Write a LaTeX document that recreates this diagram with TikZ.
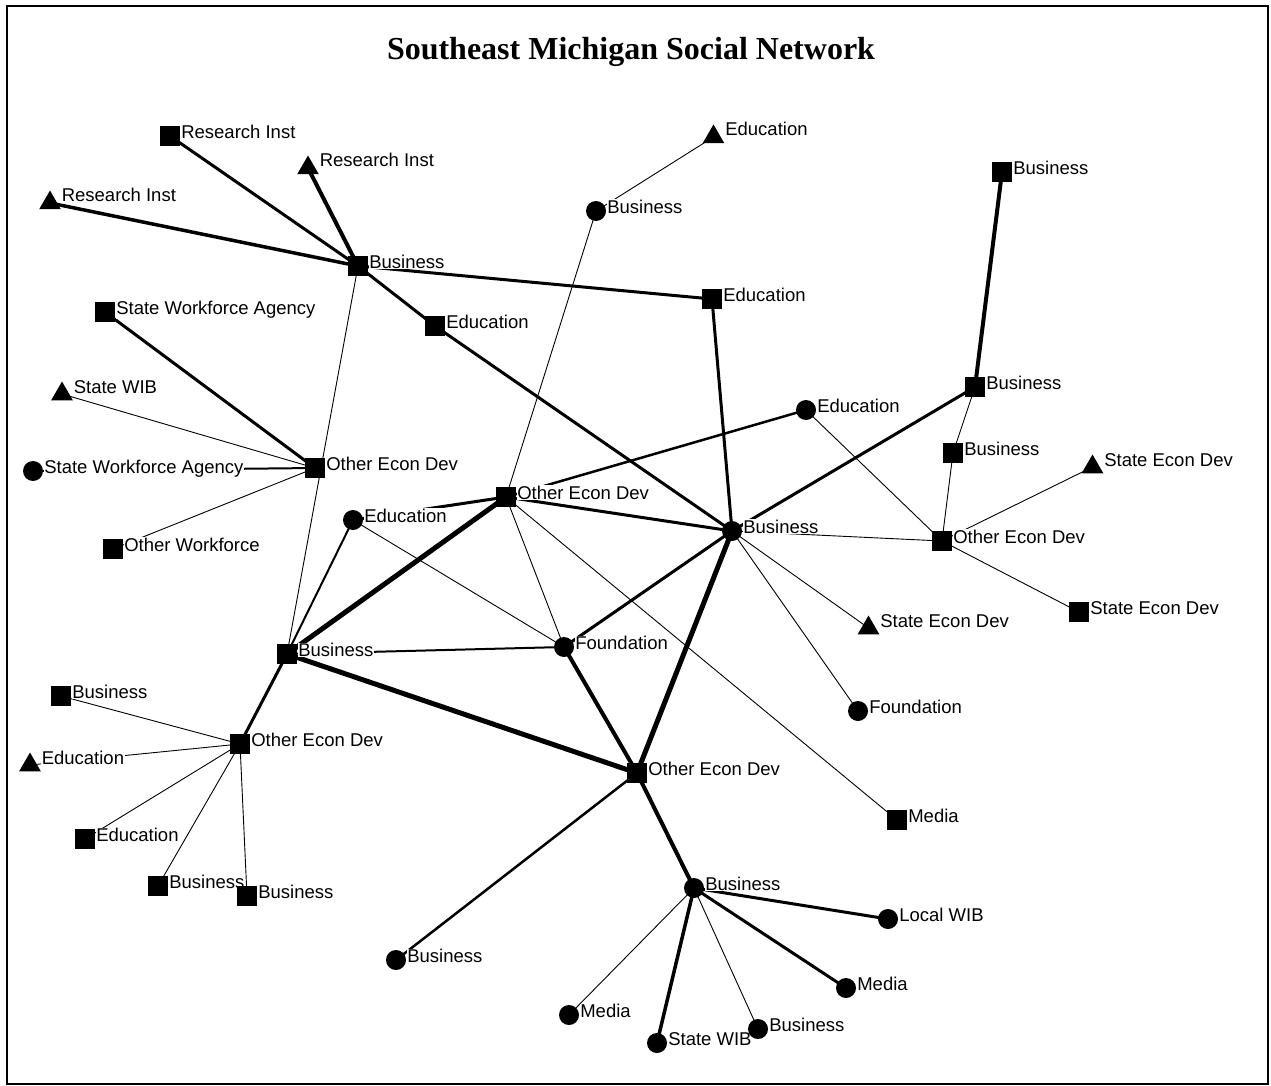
\documentclass[tikz,border=0pt]{standalone}
\usepackage{fontspec}
\setmainfont{Liberation Sans}
\newfontfamily\titlefont{Liberation Serif}
\usetikzlibrary{shapes.geometric}

\pgfdeclarelayer{paper}
\pgfdeclarelayer{edges}
\pgfdeclarelayer{texts}
\pgfsetlayers{paper,edges,texts,main}

\tikzset{
  sqv/.style={rectangle, fill=black, minimum size=19.5pt, inner sep=0pt},
  civ/.style={circle, fill=black, minimum size=20pt, inner sep=0pt},
  trv/.style={regular polygon, regular polygon sides=3, fill=black, minimum size=25pt, inner sep=0pt},
  lbl/.style={anchor=base west, fill=white, inner sep=0.6pt, font=\fontsize{18.5}{20}\selectfont},
  e1/.style={line width=0.9pt},
  e2/.style={line width=2pt},
  e25/.style={line width=2.5pt},
  e3/.style={line width=3pt},
  e35/.style={line width=3.5pt},
  e4/.style={line width=4pt},
  e5/.style={line width=5pt},
}

% marker + label helpers: name, x, y, text
\newcommand\sqnode[4]{\node[sqv] (#1) at (#2,#3) {};
  \begin{pgfonlayer}{texts}\node[lbl] (#1-t) at ({#2+10.5},{#3+2.5}) {#4};\end{pgfonlayer}}
\newcommand\cinode[4]{\node[civ] (#1) at (#2,#3) {};
  \begin{pgfonlayer}{texts}\node[lbl] (#1-t) at ({#2+10.5},{#3+2.5}) {#4};\end{pgfonlayer}}
\newcommand\trnode[4]{\node[trv] (#1) at (#2,#3) {};
  \begin{pgfonlayer}{texts}\node[lbl] (#1-t) at ({#2+11},{#3-1}) {#4};\end{pgfonlayer}}

\begin{document}
\begin{tikzpicture}[x=1pt, y=-1pt]
\useasboundingbox (0,0) rectangle (1271,1086);
\begin{pgfonlayer}{paper}
\fill[white] (0,0) rectangle (1271,1086);
\end{pgfonlayer}
\draw[line width=1.6pt] (7,6) rectangle (1268,1084);

\node[font=\titlefont\bfseries\fontsize{32}{36}\selectfont, anchor=base] (title) at (631,60) {Southeast Michigan Social Network};

% upper left cluster
\sqnode{ri1}{170}{136}{Research Inst}
\trnode{ri2}{308}{168}{Research Inst}
\trnode{ri3}{50}{203}{Research Inst}
\sqnode{b1}{358}{266}{Business}
\sqnode{ed1}{435}{326}{Education}
\sqnode{swa1}{105}{312}{State Workforce Agency}
\trnode{swib1}{62}{394}{State WIB}
\cinode{swa2}{33}{471}{State Workforce Agency}
\sqnode{oed1}{315}{468}{Other Econ Dev}
\sqnode{ow}{113}{549}{Other Workforce}
\cinode{ed2}{353}{520}{Education}
\sqnode{oed2}{506}{497}{Other Econ Dev}
\sqnode{b2}{287}{654}{Business}

% centre
\cinode{fd1}{564}{647}{Foundation}
\sqnode{oed3}{637}{773}{Other Econ Dev}
\cinode{bh}{732}{531}{Business}
\sqnode{ed3}{712}{299}{Education}
\cinode{bc1}{596}{211}{Business}
\trnode{ed4}{713.5}{137}{Education}
\cinode{ed5}{806}{410}{Education}

% right side
\sqnode{b3}{1002}{172}{Business}
\sqnode{b4}{975}{387}{Business}
\sqnode{b5}{953}{453}{Business}
\sqnode{oed4}{942}{541}{Other Econ Dev}
\trnode{sed1}{1092.5}{467}{State Econ Dev}
\sqnode{sed2}{1079}{612}{State Econ Dev}
\trnode{sed3}{868.5}{628}{State Econ Dev}
\cinode{fd2}{858}{711}{Foundation}
\sqnode{med1}{897}{820}{Media}

% lower left cluster
\sqnode{oed5}{240}{744}{Other Econ Dev}
\sqnode{b6}{61}{696}{Business}
\trnode{ed6}{30}{765}{Education}
\sqnode{ed7}{85}{839}{Education}
\sqnode{b7}{158}{886}{Business}
\sqnode{b8}{247}{896}{Business}
\cinode{b9}{396}{960}{Business}

% bottom cluster
\cinode{b10}{694}{888}{Business}
\cinode{lwib}{888}{919}{Local WIB}
\cinode{med2}{846}{988}{Media}
\cinode{med3}{569}{1015}{Media}
\cinode{swib2}{657}{1043}{State WIB}
\cinode{b11}{758}{1029}{Business}

\begin{pgfonlayer}{edges}
\draw[e3] (ri1.center) -- (b1.center);
\draw[e4] (ri2.center) -- (b1.center);
\draw[e35] (ri3.center) -- (b1.center);
\draw[e3] (b1.center) -- (ed3.center);
\draw[e3] (b1.center) -- (ed1.center);
\draw[e3] (ed1.center) -- (bh.center);
\draw[e1] (b1.center) -- (b2.center);
\draw[e3] (swa1.center) -- (oed1.center);
\draw[e1] (swib1.center) -- (oed1.center);
\draw[e2] (swa2.center) -- (oed1.center);
\draw[e1] (ow.center) -- (oed1.center);
\draw[e3] (ed2.center) -- (oed2.center);
\draw[e2] (ed2.center) -- (b2.center);
\draw[e1] (ed2.center) -- (fd1.center);
\draw[e5] (oed2.center) -- (b2.center);
\draw[e1] (oed2.center) -- (bc1.center);
\draw[e1] (bc1.center) -- (ed4.center);
\draw[e25] (oed2.center) -- (ed5.center);
\draw[e3] (oed2.center) -- (bh.center);
\draw[e1] (oed2.center) -- (fd1.center);
\draw[e1] (oed2.center) -- (med1.center);
\draw[e2] (b2.center) -- (fd1.center);
\draw[e5] (b2.center) -- (oed3.center);
\draw[e3] (b2.center) -- (oed5.center);
\draw[e3] (fd1.center) -- (bh.center);
\draw[e4] (fd1.center) -- (oed3.center);
\draw[e5] (oed3.center) -- (bh.center);
\draw[e25] (oed3.center) -- (b9.center);
\draw[e4] (oed3.center) -- (b10.center);
\draw[e3] (bh.center) -- (ed3.center);
\draw[e3] (bh.center) -- (b4.center);
\draw[e1] (bh.center) -- (oed4.center);
\draw[e1] (bh.center) -- (sed3.center);
\draw[e1] (bh.center) -- (fd2.center);
\draw[e4] (b3.center) -- (b4.center);
\draw[e1] (b4.center) -- (b5.center);
\draw[e1] (b5.center) -- (oed4.center);
\draw[e1] (ed5.center) -- (oed4.center);
\draw[e1] (oed4.center) -- (sed1.center);
\draw[e1] (oed4.center) -- (sed2.center);
\draw[e1] (oed5.center) -- (b6.center);
\draw[e1] (oed5.center) -- (ed6.center);
\draw[e1] (oed5.center) -- (ed7.center);
\draw[e1] (oed5.center) -- (b7.center);
\draw[e1] (oed5.center) -- (b8.center);
\draw[e3] (b10.center) -- (lwib.center);
\draw[e3] (b10.center) -- (med2.center);
\draw[e1] (b10.center) -- (med3.center);
\draw[e35] (b10.center) -- (swib2.center);
\draw[e1] (b10.center) -- (b11.center);
\end{pgfonlayer}
\end{tikzpicture}
\end{document}
